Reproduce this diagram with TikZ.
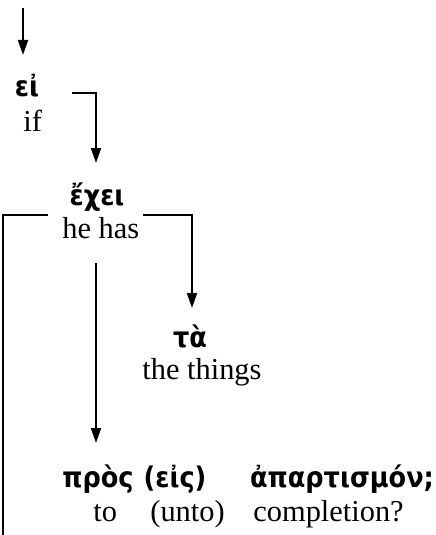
\documentclass[tikz,border=0pt]{standalone}
\usepackage{fontspec}
\setmainfont{Liberation Serif}
\newfontfamily\gk{DejaVu Sans Condensed}
\usetikzlibrary{arrows.meta}
\begin{document}
\begin{tikzpicture}[x=0.5pt,y=-0.5pt,
  en/.style={inner sep=0pt,anchor=base west,font=\fontsize{15.2}{18}\selectfont},
  gr/.style={inner sep=0pt,anchor=base,font=\fontsize{14.2}{17}\selectfont\gk\bfseries},
  conn/.style={line width=1pt},
  arr/.style={conn,-{Triangle[length=7.5pt,width=5pt]}}]
\useasboundingbox (0,0) rectangle (435,535);
% texts
\node[gr] (ei) at (27,97) {εἰ};
\node[en] (if) at (23,132) {if};
\node[gr] (exei) at (97,205) {ἔχει};
\node[en] (hehas) at (62,238) {he has};
\node[gr] (ta) at (190,347) {τὰ};
\node[en] (things) at (142,379) {the things};
\node[gr] (pros) at (98,487) {πρὸς};
\node[gr] (eis) at (175,487) {(εἰς)};
\node[gr] (apart) at (342,487) {ἀπαρτισμόν;};
\node[en] (to) at (93,521) {to};
\node[en] (unto) at (150,521) {(unto)};
\node[en] (compl) at (253,521) {completion?};
% connector points
\coordinate (top) at (23,8);
\coordinate (c1a) at (72,93);
\coordinate (c1b) at (96,93);
\coordinate (tip1) at (96,163);
\coordinate (c2a) at (143,215);
\coordinate (c2b) at (192,215);
\coordinate (tip2) at (192,308);
\coordinate (c3a) at (48,215);
\coordinate (c3b) at (3,215);
\coordinate (bot) at (3,535);
\coordinate (m1) at (96,263);
\coordinate (tip3) at (96,443);
\coordinate (tip0) at (23,55);
% connectors
\draw[arr] (top) -- (tip0);
\draw[arr] (c1a) -- (c1b) -- (tip1);
\draw[arr] (c2a) -- (c2b) -- (tip2);
\draw[conn] (c3a) -- (c3b) -- (bot);
\draw[arr] (m1) -- (tip3);
\end{tikzpicture}
\end{document}
